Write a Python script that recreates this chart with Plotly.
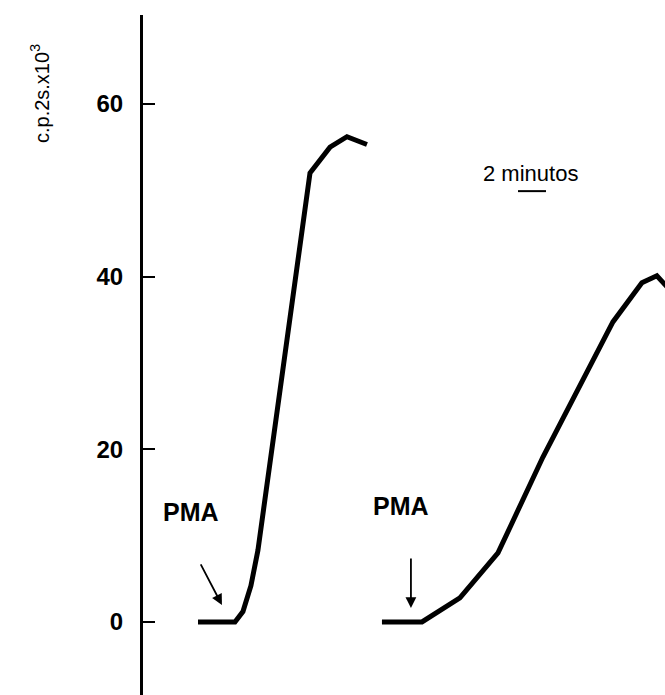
import plotly.graph_objects as go

# Curve 1 (time in minutes, counts c.p.2s x10^3)
t1 = [3.93, 6.57, 7.14, 7.71, 8.21, 10.07, 11.93, 13.36, 14.57, 16.0]
y1 = [0.0, 0.0, 1.2, 4.2, 8.3, 30.0, 52.0, 55.0, 56.2, 55.3]

# Curve 2
t2 = [17.07, 19.93, 22.64, 25.36, 28.57, 31.71, 33.57, 35.64, 36.71, 37.5]
y2 = [0.0, 0.0, 2.8, 8.0, 19.1, 28.8, 34.75, 39.3, 40.1, 38.7]

y_ticks = [0, 20, 40, 60]
y_ticktext = ["0", "20", "40", "60"]

fig = go.Figure()
fig.add_trace(go.Scatter(x=t1, y=y1, mode="lines",
                         line=dict(color="black", width=5), showlegend=False))
fig.add_trace(go.Scatter(x=t2, y=y2, mode="lines",
                         line=dict(color="black", width=5), showlegend=False))

font_main = "Liberation Sans, Arial, sans-serif"

fig.update_layout(
    width=665, height=695,
    margin=dict(l=143, r=0, t=15, b=0),
    paper_bgcolor="white", plot_bgcolor="white",
    xaxis=dict(visible=False, range=[0, 37.29]),
    yaxis=dict(range=[-8.46, 70.3], showline=True, linecolor="black", linewidth=3,
               ticks="inside", ticklen=12, tickwidth=1.5, tickcolor="black",
               tickvals=y_ticks, ticktext=y_ticktext, showgrid=False, zeroline=False,
               ticklabelstandoff=12,
               tickfont=dict(family=font_main, size=24, color="black", weight="bold")),
)

# y-axis label
fig.add_annotation(text="c.p.2s.x10<sup>3</sup>", xref="paper", yref="paper",
                   x=-0.197, y=0.884, textangle=-90, showarrow=False,
                   xanchor="center", yanchor="middle",
                   font=dict(family=font_main, size=20, color="black"))

# PMA labels with arrows
fig.add_annotation(text="<b>PMA</b>", x=3.46, y=12.7, showarrow=False,
                   font=dict(family=font_main, size=25, color="black"))
fig.add_annotation(text="<b>PMA</b>", x=18.46, y=13.4, showarrow=False,
                   font=dict(family=font_main, size=25, color="black"))
fig.add_annotation(x=5.64, y=1.97, ax=-22, ay=-42, text="", showarrow=True,
                   arrowhead=2, arrowsize=1.2, arrowwidth=1.8, arrowcolor="black")
fig.add_annotation(x=19.14, y=1.62, ax=0, ay=-51, text="", showarrow=True,
                   arrowhead=2, arrowsize=1.2, arrowwidth=1.8, arrowcolor="black")

# time scale bar (2 minutes)
fig.add_annotation(text="2 minutos", x=27.71, y=52.0, showarrow=False,
                   font=dict(family=font_main, size=22, color="black"))
fig.add_shape(type="line", x0=26.79, x1=28.79, y0=49.9, y1=49.9,
              line=dict(color="black", width=2))

fig.write_html("out.html")
